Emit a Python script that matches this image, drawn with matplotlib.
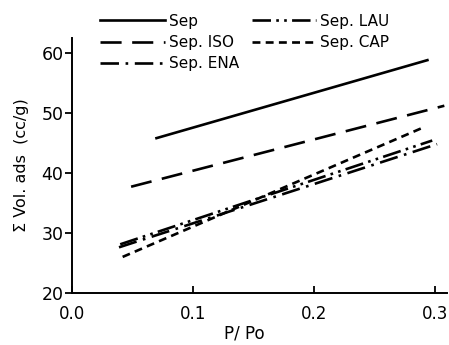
import matplotlib
matplotlib.use("Agg")
import matplotlib.pyplot as plt

# P/Po endpoints and adsorbed volume (cc/g) for each sample
labels = ["Sep", "Sep. ISO", "Sep. ENA", "Sep. LAU", "Sep. CAP"]
x_sep = [0.070, 0.294]
y_sep = [45.8, 58.8]
x_iso = [0.049, 0.308]
y_iso = [37.7, 51.2]
x_ena = [0.039, 0.302]
y_ena = [27.6, 44.8]
x_lau = [0.040, 0.298]
y_lau = [28.1, 45.4]
x_cap = [0.042, 0.292]
y_cap = [26.0, 47.7]

xticks = [0.0, 0.1, 0.2, 0.3]
xticklabels = ["0.0", "0.1", "0.2", "0.3"]
yticks = [20, 30, 40, 50, 60]

plt.rcParams["font.family"] = ["DejaVu Sans"]

fig = plt.figure(figsize=(4.49, 3.45), dpi=100)
ax = fig.add_axes([0.160, 0.151, 0.835, 0.739])

lw = 1.9
ax.plot(x_sep, y_sep, color="black", lw=lw, linestyle="-", label=labels[0])
ax.plot(x_iso, y_iso, color="black", lw=lw, linestyle=(0, (8, 4)), label=labels[1])
ax.plot(x_ena, y_ena, color="black", lw=lw, linestyle=(0, (7, 2.5, 1, 2.5)), label=labels[2])
ax.plot(x_lau, y_lau, color="black", lw=lw, linestyle=(0, (7, 2, 1, 2, 1, 2)), label=labels[3])
ax.plot(x_cap, y_cap, color="black", lw=lw, linestyle=(0, (3, 2)), label=labels[4])

ax.set_xlim(0, 0.31)
ax.set_ylim(20, 62.5)
ax.set_xticks(xticks)
ax.set_xticklabels(xticklabels)
ax.set_yticks(yticks)
ax.tick_params(axis="y", direction="out", length=5, width=1.3, labelsize=12.5, pad=1)
ax.tick_params(axis="x", direction="in", length=5, width=1.3, labelsize=12, pad=9)
for s in ["top", "right"]:
    ax.spines[s].set_visible(False)
for s in ["left", "bottom"]:
    ax.spines[s].set_linewidth(1.4)

ax.set_xlabel("P/ Po", fontsize=12)
ax.xaxis.set_label_coords(0.46, -0.125)
ax.set_ylabel("\u03a3 Vol. ads  (cc/g)", fontsize=11.5)
ax.yaxis.set_label_coords(-0.115, 0.5)

leg = fig.legend(loc="upper left", bbox_to_anchor=(0.193, 1.0), ncol=2,
                 frameon=False, fontsize=11, handlelength=4.2,
                 handletextpad=0.3, columnspacing=0.8, labelspacing=0.4)

fig.savefig("out.png", dpi=100)
